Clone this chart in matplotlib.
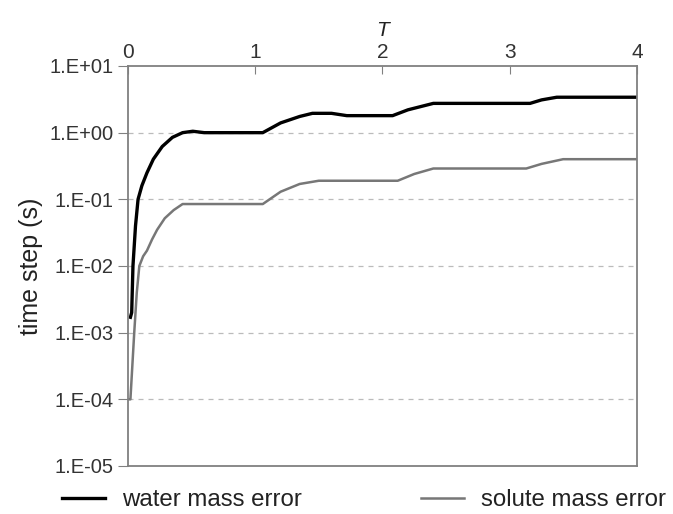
import matplotlib
matplotlib.use("Agg")
import matplotlib.pyplot as plt
from matplotlib.ticker import FixedLocator

plt.rcParams['font.family'] = ['Liberation Sans', 'DejaVu Sans']

# water mass error curve (T, time step)
water_T = [0.02, 0.03, 0.04, 0.06, 0.08, 0.11, 0.15, 0.20, 0.27, 0.35, 0.43, 0.51, 0.60,
           1.06, 1.20, 1.35, 1.45, 1.60, 1.72, 2.08, 2.20, 2.40, 3.16, 3.25, 3.37, 4.0]
water_dt = [1.7e-3, 2.0e-3, 1.0e-2, 4.0e-2, 1.0e-1, 1.6e-1, 0.25, 0.40, 0.62, 0.85, 1.0, 1.05, 1.0,
            1.0, 1.4, 1.75, 1.95, 1.95, 1.8, 1.8, 2.2, 2.75, 2.75, 3.1, 3.4, 3.4]

# solute mass error curve
solute_T = [0.01, 0.02, 0.05, 0.07, 0.09, 0.12, 0.15, 0.19, 0.23, 0.29, 0.36, 0.43,
            1.06, 1.20, 1.35, 1.50, 2.12, 2.25, 2.40, 3.13, 3.25, 3.42, 4.0]
solute_dt = [1.0e-4, 1.0e-4, 1.0e-3, 4.0e-3, 1.0e-2, 1.4e-2, 0.017, 0.025, 0.035, 0.052, 0.069, 0.085,
             0.085, 0.13, 0.17, 0.19, 0.19, 0.24, 0.29, 0.29, 0.34, 0.40, 0.40]

y_ticks = [1e-5, 1e-4, 1e-3, 1e-2, 1e-1, 1e0, 1e1]
y_labels = ["1.E-05", "1.E-04", "1.E-03", "1.E-02", "1.E-01", "1.E+00", "1.E+01"]
x_ticks = [0, 1, 2, 3, 4]

fig = plt.figure(figsize=(6.73, 5.14), dpi=100)
ax = fig.add_axes([0.190, 0.0934, 0.7565, 0.7782])

ax.plot(water_T, water_dt, color="black", lw=2.4, label="water mass error")
ax.plot(solute_T, solute_dt, color="#777777", lw=1.8, label="solute mass error")

ax.set_yscale("log")
ax.set_ylim(1e-5, 1e1)
ax.set_xlim(0, 4)
ax.yaxis.set_major_locator(FixedLocator(y_ticks))
ax.yaxis.set_minor_locator(FixedLocator([]))
ax.set_yticklabels(y_labels)
ax.set_xticks(x_ticks)

# grid at decades
for v in y_ticks[1:-1]:
    ax.axhline(v, color="#bbbbbb", lw=0.9, ls=(0, (4, 4)), zorder=0)

for s in ax.spines.values():
    s.set_color("#808080")
    s.set_linewidth(1.3)

ax.xaxis.tick_top()
ax.xaxis.set_label_position("top")
ax.tick_params(axis="x", direction="in", length=6, color="#808080", labelsize=15,
               labelcolor="#333333", pad=3)
ax.tick_params(axis="y", direction="out", length=7, color="#808080", labelsize=14.5,
               labelcolor="#333333", pad=3)
ax.set_xlabel("T", fontsize=15, style="italic", color="#222222", labelpad=5)
ax.set_ylabel("time step (s)", fontsize=18, color="#222222", labelpad=5)

fig.legend(loc="center left", bbox_to_anchor=(0.092, 0.027), ncol=2, frameon=False,
           fontsize=17.3, handlelength=1.8, handletextpad=0.7, columnspacing=4.95,
           borderpad=0, borderaxespad=0, labelcolor="#222222")

fig.savefig("out.png", dpi=100)
